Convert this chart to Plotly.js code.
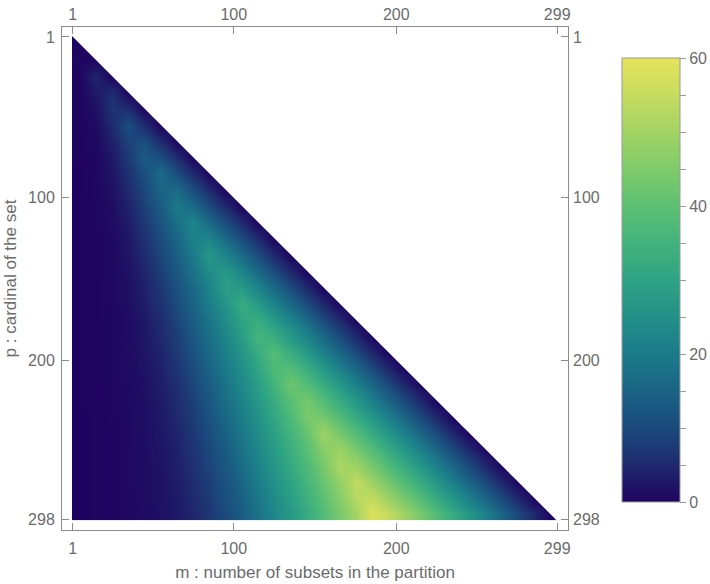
<!DOCTYPE html>
<html>
<head>
<meta charset="utf-8">
<script src="https://cdn.plot.ly/plotly-3.0.1.min.js"></script>
<style>html,body{margin:0;padding:0;background:#fff;}#chart{width:710px;height:584px;}</style>
</head>
<body>
<div id="chart"></div>
<script>
// Matrix dimensions (rows p = 1..298, columns m = 1..299)
const nRows = 298;
const nCols = 299;
// Sampled cell centres (every 10)
const mCenters = [5,15,25,35,45,55,65,75,85,95,105,115,125,135,145,155,165,175,185,195,205,215,225,235,245,255,265,275,285,295];
const pCenters = [5,15,25,35,45,55,65,75,85,95,105,115,125,135,145,155,165,175,185,195,205,215,225,235,245,255,265,275,285,295];
// tick labels
const mTicks = [1,100,200,299];
const pTicks = [1,100,200,298];
const cbMajor = [0,20,40,60];

// values read per row (p), for m = 5,15,... up to the diagonal
const rowP5   = [0];
const rowP15  = [0.6, 0];
const rowP25  = [0.2, 4.4, 0];
const rowP35  = [0.1, 2.8, 5.5, 0];
const rowP45  = [0.1, 1.7, 6.6, 5.4, 0];
const rowP55  = [0.1, 1.1, 5.0, 10.9, 5.3, 0];
const rowP65  = [0.1, 0.7, 3.8, 8.8, 10.9, 5.3, 0];
const rowP75  = [0.1, 0.5, 2.8, 7.3, 13.1, 10.9, 5.2, 0];
const rowP85  = [0.0, 0.4, 2.2, 6.0, 11.1, 16.4, 10.8, 5.1, 0];
const rowP95  = [0.0, 0.4, 1.7, 4.9, 9.6, 15.3, 16.4, 10.8, 5.1, 0];
const rowP105 = [0.0, 0.3, 1.3, 4.0, 8.3, 13.4, 20.0, 16.4, 10.7, 5.0, 0];
const rowP115 = [0.0, 0.3, 1.1, 3.2, 7.1, 11.9, 17.5, 21.9, 16.3, 10.6, 5.0, 0];
const rowP125 = [0.0, 0.3, 0.8, 2.7, 6.0, 10.5, 15.7, 21.8, 21.9, 16.3, 10.6, 5.0, 0];
const rowP135 = [0.0, 0.2, 0.8, 2.2, 5.1, 9.3, 14.1, 19.8, 27.0, 21.9, 16.2, 10.5, 4.9, 0];
const rowP145 = [0.0, 0.2, 0.7, 1.9, 4.4, 8.2, 12.8, 18.0, 24.0, 27.4, 21.8, 16.1, 10.5, 4.9, 0];
const rowP155 = [0.0, 0.2, 0.6, 1.6, 3.8, 7.1, 11.5, 16.4, 22.0, 28.7, 27.4, 21.8, 16.1, 10.3, 4.8, 0];
const rowP165 = [0.0, 0.2, 0.6, 1.4, 3.3, 6.3, 10.4, 15.1, 20.3, 26.2, 32.8, 27.4, 21.7, 16.0, 10.3, 4.8, 0];
const rowP175 = [0.0, 0.2, 0.5, 1.2, 2.8, 5.5, 9.3, 13.8, 18.7, 24.2, 30.5, 32.8, 27.4, 21.7, 15.9, 10.2, 4.8, 0];
const rowP185 = [0.0, 0.2, 0.5, 1.2, 2.4, 4.8, 8.1, 12.6, 17.3, 22.5, 28.4, 35.6, 32.8, 27.3, 21.6, 15.9, 10.2, 4.7, 0];
const rowP195 = [0.0, 0.2, 0.5, 1.0, 2.2, 4.3, 7.4, 11.5, 16.0, 21.0, 26.5, 32.8, 38.3, 32.9, 27.2, 21.5, 15.8, 10.1, 4.7, 0];
const rowP205 = [0.0, 0.2, 0.5, 1.0, 2.0, 3.8, 6.7, 10.4, 14.8, 19.6, 24.8, 30.7, 37.4, 38.3, 32.9, 27.2, 21.5, 15.8, 10.0, 4.7, 0];
const rowP215 = [0.0, 0.2, 0.4, 0.9, 1.7, 3.3, 5.9, 9.3, 13.6, 18.3, 23.3, 28.8, 35.0, 42.6, 38.3, 32.8, 27.1, 21.4, 15.7, 10.0, 4.7, 0];
const rowP225 = [0.0, 0.2, 0.4, 0.8, 1.5, 3.0, 5.4, 8.5, 12.5, 17.1, 21.9, 27.1, 32.9, 39.3, 43.7, 38.4, 32.7, 27.0, 21.3, 15.6, 10.0, 4.7, 0];
const rowP235 = [0.0, 0.1, 0.4, 0.8, 1.4, 2.7, 4.9, 7.8, 11.5, 15.8, 20.6, 25.5, 31.1, 37.1, 44.4, 43.8, 38.3, 32.6, 27.0, 21.2, 15.5, 9.9, 4.7, 0];
const rowP245 = [0.0, 0.1, 0.3, 0.7, 1.4, 2.5, 4.4, 7.1, 10.4, 14.7, 19.3, 24.2, 29.4, 35.0, 41.4, 49.3, 43.8, 38.3, 32.6, 26.9, 21.2, 15.4, 10.0, 4.7, 0];
const rowP255 = [0.0, 0.1, 0.3, 0.7, 1.3, 2.3, 3.9, 6.5, 9.7, 13.6, 18.1, 22.8, 27.8, 33.4, 39.4, 46.2, 49.2, 43.8, 38.3, 32.5, 26.8, 21.1, 15.4, 9.9, 4.7, 0];
const rowP265 = [0.0, 0.1, 0.3, 0.7, 1.2, 2.1, 3.6, 6.0, 9.0, 12.5, 16.9, 21.6, 26.5, 31.7, 37.4, 43.7, 51.3, 49.2, 43.8, 38.2, 32.5, 26.8, 21.1, 15.3, 9.9, 4.7, 0];
const rowP275 = [0.0, 0.1, 0.3, 0.7, 1.2, 1.8, 3.3, 5.5, 8.2, 11.6, 15.8, 20.3, 25.1, 30.1, 35.6, 41.6, 48.0, 54.7, 49.3, 43.8, 38.1, 32.4, 26.7, 21.0, 15.2, 9.8, 4.7, 0];
const rowP285 = [0.0, 0.1, 0.3, 0.6, 1.1, 1.8, 2.9, 5.0, 7.6, 10.8, 14.7, 19.1, 23.8, 28.8, 34.0, 39.7, 45.9, 53.1, 54.7, 49.3, 43.7, 38.1, 32.3, 26.6, 20.9, 15.2, 9.8, 4.7, 0];
const rowP295 = [0.0, 0.1, 0.3, 0.6, 1.0, 1.7, 2.7, 4.5, 7.0, 10.1, 13.7, 18.0, 22.6, 27.3, 32.4, 37.9, 43.9, 50.2, 58.2, 54.7, 49.3, 43.7, 37.9, 32.3, 26.5, 20.9, 15.1, 9.7, 4.7, 0];

const rows = [rowP5,rowP15,rowP25,rowP35,rowP45,rowP55,rowP65,rowP75,rowP85,rowP95,
  rowP105,rowP115,rowP125,rowP135,rowP145,rowP155,rowP165,rowP175,rowP185,rowP195,
  rowP205,rowP215,rowP225,rowP235,rowP245,rowP255,rowP265,rowP275,rowP285,rowP295];

const z = rows.map(r => mCenters.map((_, j) => j < r.length ? r[j] : null));

function edges(c, lo, hi) {
  const e = [lo];
  for (let i = 0; i < c.length - 1; i++) e.push((c[i] + c[i + 1]) / 2);
  e.push(hi);
  return e;
}
const xEdges = edges(mCenters, 0.5, nCols + 0.5);
const yEdges = edges(pCenters, 0.5, nRows + 0.5);

const colorscale = [
  [0.0, '#1f0360'], [0.0833, '#1f2a6e'], [0.1667, '#1b4a7d'], [0.25, '#1a6385'],
  [0.3333, '#1c7b89'], [0.4167, '#229088'], [0.5, '#2ea384'], [0.5833, '#43b37c'],
  [0.6667, '#5dc073'], [0.75, '#7fcb6a'], [0.8333, '#a2d364'], [0.9167, '#c6dc5f'], [1.0, '#e6e35a']
];

const cbTicks = [];
for (let v = cbMajor[0]; v <= cbMajor[cbMajor.length - 1]; v += 5) cbTicks.push(v);
const cbText = cbTicks.map(v => cbMajor.includes(v) ? String(v) : '');

// white region above the diagonal of the matrix, along the staircase corners
const maskX = [xEdges[0], nCols + 0.5, nCols + 0.5];
const maskY = [yEdges[0], nCols + 0.5, yEdges[0]];

const padX = 6.15, padY = 5.6;
const xRange = [0.5 - padX, nCols + 0.5 + padX];
const yRange = [nRows + 0.5 + 6.15, 0.5 - padY];

const grey = '#6b6b6b';
const lineGrey = '#8c8c8c';
const font = {family: 'Liberation Sans, Arial, sans-serif', size: 16, color: grey};
const titleFont = {family: 'Liberation Sans, Arial, sans-serif', size: 17, color: grey};

const data = [
  {
    type: 'heatmap', x: xEdges, y: yEdges, z: z,
    zmin: 0, zmax: 60, zsmooth: 'best', colorscale: colorscale,
    hoverinfo: 'skip',
    colorbar: {
      xref: 'container', yref: 'paper',
      x: 622 / 710, xanchor: 'left', y: 0.497, yanchor: 'middle',
      thickness: 58, len: 444, lenmode: 'pixels', xpad: 0, ypad: 0,
      outlinecolor: '#9a9a9a', outlinewidth: 1,
      ticks: 'outside', ticklen: 6, tickcolor: '#9a9a9a',
      tickvals: cbTicks, ticktext: cbText, tickfont: font
    }
  },
  {
    type: 'scatter', mode: 'lines', x: maskX, y: maskY, xaxis: 'x2', yaxis: 'y2',
    fill: 'toself', fillcolor: '#ffffff', line: {width: 0, color: '#ffffff'},
    hoverinfo: 'skip', showlegend: false
  }
];

const axBase = {
  showgrid: false, zeroline: false, ticks: 'inside', ticklen: 7, tickcolor: lineGrey, tickwidth: 1,
  showline: true, linecolor: lineGrey, linewidth: 1, mirror: 'ticks', tickfont: font, automargin: false
};

const layout = {
  width: 710, height: 584,
  margin: {l: 62, r: 142, t: 27, b: 54, autoexpand: false},
  paper_bgcolor: '#ffffff', plot_bgcolor: '#ffffff',
  showlegend: false,
  xaxis: Object.assign({}, axBase, {
    range: xRange, tickvals: mTicks, ticktext: mTicks.map(String), ticklabelstandoff: 4,
    title: {text: 'm : number of subsets in the partition', font: titleFont, standoff: 9}
  }),
  yaxis: Object.assign({}, axBase, {
    range: yRange, tickvals: pTicks, ticktext: pTicks.map(String), ticklabelstandoff: 3,
    title: {text: 'p : cardinal of the set', font: titleFont, standoff: 7}
  }),
  xaxis2: {
    overlaying: 'x', side: 'top', range: xRange, tickvals: mTicks, ticktext: mTicks.map(String),
    showgrid: false, zeroline: false, showline: false, ticks: '', tickfont: font, ticklabelstandoff: 3, automargin: false
  },
  yaxis2: {
    overlaying: 'y', side: 'right', range: yRange, tickvals: pTicks, ticktext: pTicks.map(String),
    showgrid: false, zeroline: false, showline: false, ticks: '', tickfont: font, ticklabelstandoff: 4, automargin: false
  }
};

Plotly.newPlot('chart', data, layout, {displayModeBar: false, staticPlot: true});
</script>
</body>
</html>
